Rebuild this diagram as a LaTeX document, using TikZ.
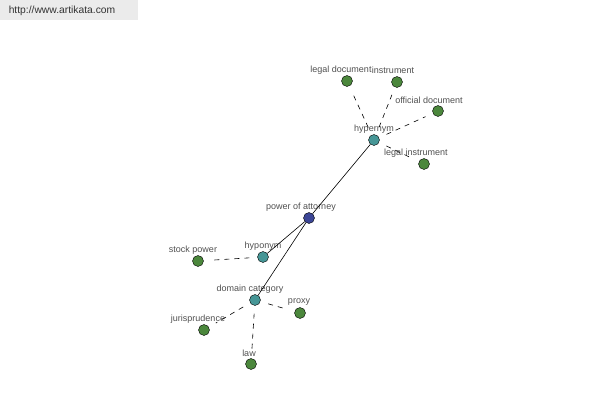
\documentclass[tikz,border=0pt]{standalone}
\usepackage{fontspec}
\setmainfont{Liberation Sans}
\usetikzlibrary{positioning}

\definecolor{hubblue}{RGB}{60,70,150}
\definecolor{relteal}{RGB}{70,150,150}
\definecolor{leafgreen}{RGB}{75,135,60}
\definecolor{labelgrey}{RGB}{80,80,80}

\tikzset{
  hub/.style={circle,draw=black,fill=hubblue,inner sep=0pt,minimum size=11pt},
  rel/.style={circle,draw=black,fill=relteal,inner sep=0pt,minimum size=11pt},
  leaf/.style={circle,draw=black,fill=leafgreen,inner sep=0pt,minimum size=11pt},
  lbl/.style={text=labelgrey,font=\fontsize{9}{10}\selectfont,inner sep=0pt},
  solidedge/.style={draw=black,line width=0.6pt},
  dashedge/.style={draw=black,dash pattern=on 5pt off 5pt,line width=0.6pt,shorten <=8pt,shorten >=8pt}
}

\begin{document}
\begin{tikzpicture}[x=1pt,y=-1pt]
      \useasboundingbox (0,0) rectangle (600,400);

      % site banner
      \fill[black!8] (0,0) rectangle (138,20);
      \node[lbl,text=black!80,font=\fontsize{10.3}{11}\selectfont] (site) at (62,11) {http://www.artikata.com};

      % centre and relation nodes
      \node[hub] (poa) at (309,218) {};
      \node[rel] (hyper) at (374,140) {};
      \node[rel] (hypo) at (263,257) {};
      \node[rel] (dom) at (255,300) {};

      % leaves
      \node[leaf] (legdoc) at (347,81) {};
      \node[leaf] (instr) at (397,82) {};
      \node[leaf] (offdoc) at (438,111) {};
      \node[leaf] (legins) at (424,164) {};
      \node[leaf] (stock) at (198,261) {};
      \node[leaf] (juris) at (204,330) {};
      \node[leaf] (law) at (251,364) {};
      \node[leaf] (proxy) at (300,313) {};

      % labels
      \node[lbl] (poa-l) at (301,207) {power of attorney};
      \node[lbl] (hyper-l) at (374,129) {hypernym};
      \node[lbl] (hypo-l) at (263,246) {hyponym};
      \node[lbl] (dom-l) at (250,289) {domain category};
      \node[lbl] (legdoc-l) at (341,70) {legal document};
      \node[lbl] (instr-l) at (393,70) {instrument};
      \node[lbl] (offdoc-l) at (429,100) {official document};
      \node[lbl] (legins-l) at (416,153) {legal instrument};
      \node[lbl] (stock-l) at (193,250) {stock power};
      \node[lbl] (juris-l) at (198,319) {jurisprudence};
      \node[lbl] (law-l) at (249,353) {law};
      \node[lbl] (proxy-l) at (299,302) {proxy};

      % solid links from the centre
      \draw[solidedge] (poa) -- (hyper);
      \draw[solidedge] (poa) -- (hypo);
      \draw[solidedge] (poa) -- (dom);

      % dashed links to the leaves
      \draw[dashedge] (hyper) -- (legdoc);
      \draw[dashedge] (hyper) -- (instr);
      \draw[dashedge] (hyper) -- (offdoc);
      \draw[dashedge] (hyper) -- (legins);
      \draw[dashedge] (hypo) -- (stock);
      \draw[dashedge] (dom) -- (juris);
      \draw[dashedge] (dom) -- (law);
      \draw[dashedge] (dom) -- (proxy);
\end{tikzpicture}
\end{document}
